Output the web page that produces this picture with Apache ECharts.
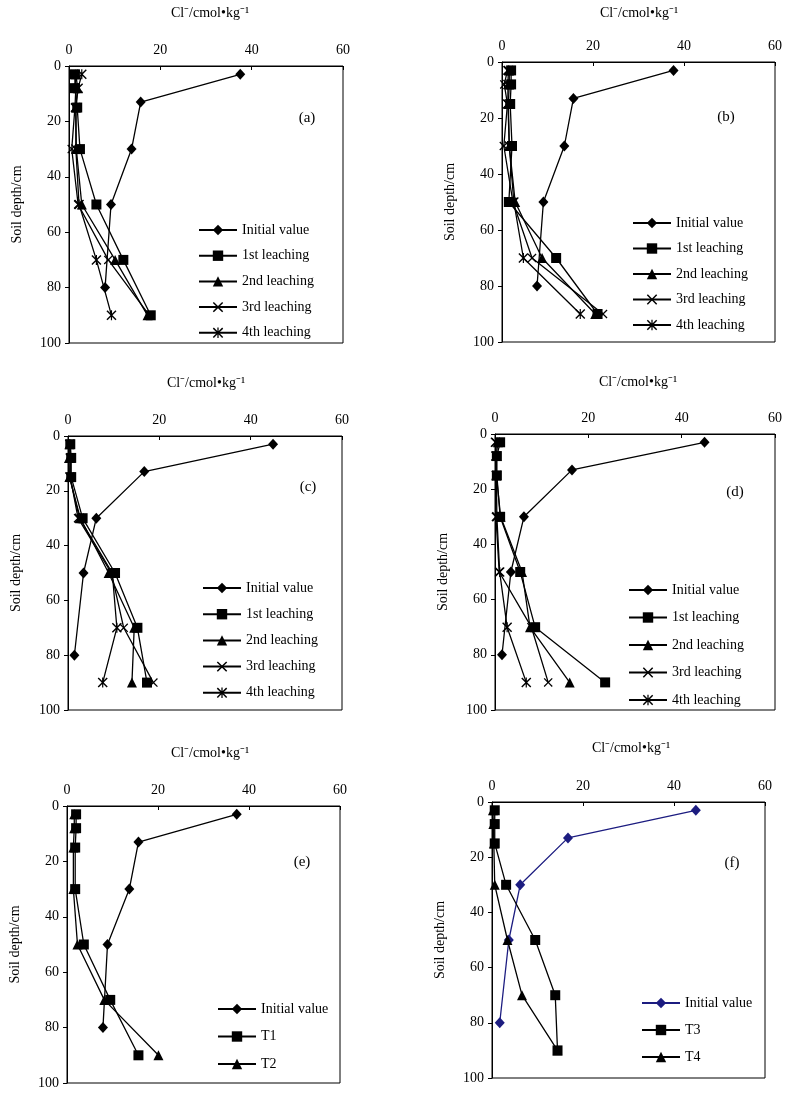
<!DOCTYPE html>
<html><head><meta charset="utf-8">
<script src="https://cdn.jsdelivr.net/npm/echarts@6/dist/echarts.min.js"></script>
<style>html,body{margin:0;padding:0;background:#fff}#c{width:787px;height:1095px}</style>
</head><body><div id="c"></div>
<script>
// ---- data ----
const depthInit = [3, 13, 30, 50, 80];
const depthLeach = [3, 8, 15, 30, 50, 70, 90];
const xTickMax = 60, xTickStep = 20, yTickMax = 100, yTickStep = 20;
const xTitle = 'Cl⁻/cmol•kg⁻¹';
const yTitle = 'Soil depth/cm';
const panelLabels = ['(a)', '(b)', '(c)', '(d)', '(e)', '(f)'];
const leachNames = ['Initial value', '1st leaching', '2nd leaching', '3rd leaching', '4th leaching'];
const eNames = ['Initial value', 'T1', 'T2'];
const fNames = ['Initial value', 'T3', 'T4'];

const initA = [37.5, 15.7, 13.7, 9.2, 7.9];
const a1 = [1.3, 1.3, 1.8, 2.4, 6.0, 11.9, 17.9];
const a2 = [1.5, 1.9, 1.5, 1.6, 2.8, 10.1, 17.2];
const a3 = [1.4, 1.5, 1.3, 0.6, 2.0, 8.6, 17.6];
const a4 = [2.8, 2.0, 1.5, 1.5, 2.2, 6.0, 9.3];

const initB = [37.7, 15.7, 13.7, 9.1, 7.7];
const b1 = [2.0, 2.0, 1.8, 2.2, 1.5, 11.9, 21.0];
const b2 = [1.6, 1.6, 1.4, 1.6, 2.9, 8.8, 20.5];
const b3 = [1.2, 0.5, 1.2, 0.4, 2.4, 6.6, 22.2];
const b4 = [1.4, 1.3, 1.3, 1.6, 2.6, 4.7, 17.2];

const initC = [44.9, 16.7, 6.2, 3.4, 1.4];
const c1 = [0.5, 0.7, 0.7, 3.2, 10.3, 15.2, 17.3];
const c2 = [0.3, 0.2, 0.3, 2.7, 8.9, 14.5, 14.0];
const c3 = [0.4, 0.5, 0.5, 2.2, 9.5, 12.2, 18.7];
const c4 = [0.4, 0.5, 0.4, 2.5, 9.7, 10.7, 7.6];

const initD = [44.9, 16.5, 6.2, 3.4, 1.5];
const d1 = [1.1, 0.4, 0.4, 1.1, 5.4, 8.6, 23.6];
const d2 = [0.6, 0.3, 0.3, 1.2, 5.8, 7.5, 16.0];
const d3 = [0.2, 0.2, 0.2, 0.2, 0.9, 7.8, 11.4];
const d4 = [0.1, 0.2, 0.3, 0.4, 1.0, 2.6, 6.7];

const initE = [37.3, 15.7, 13.7, 8.9, 7.9];
const eT1 = [2.0, 2.0, 1.8, 1.8, 3.7, 9.5, 15.7];
const eT2 = [1.6, 1.6, 1.4, 1.4, 2.3, 8.2, 20.1];

const initF = [44.8, 16.7, 6.2, 3.7, 1.7];
const fT3 = [0.6, 0.6, 0.6, 3.1, 9.5, 13.9, 14.4];
const fT4 = [0.2, 0.3, 0.4, 0.6, 3.4, 6.6, 14.4];

// ---- styling ----
const FONT = '"Liberation Serif","Times New Roman",serif';
const BLACK = '#000';
const NAVY = '#1c1c80';
const SYM_X = 'path://M0,1L1,0L5,4L9,0L10,1L6,5L10,9L9,10L5,6L1,10L0,9L4,5Z';
const SYM_STAR = 'path://M0,1L1,0L5,4L9,0L10,1L6,5L10,9L9,10L5,6L1,10L0,9L4,5ZM4.4,0L5.6,0L5.6,10L4.4,10Z';
const SYMS = [
  {symbol: 'diamond', size: [10, 11]},
  {symbol: 'rect', size: 10},
  {symbol: 'triangle', size: 10},
  {symbol: SYM_X, size: 9},
  {symbol: SYM_STAR, size: 10}
];

const panels = [
  {key: 'a', grid: [69, 66, 274, 277], legend: [198, 222], gap: 11.7, label: [307, 118], title: [210, 13],
   names: leachNames, data: [initA, a1, a2, a3, a4], syms: [0, 1, 2, 3, 4], colors: [BLACK, BLACK, BLACK, BLACK, BLACK]},
  {key: 'b', grid: [502, 62, 273, 280], legend: [632, 215], gap: 11.5, label: [726, 117], title: [639, 13],
   names: leachNames, data: [initB, b1, b2, b3, b4], syms: [0, 1, 2, 3, 4], colors: [BLACK, BLACK, BLACK, BLACK, BLACK]},
  {key: 'c', grid: [68, 436, 274, 274], legend: [202, 580], gap: 12.2, label: [308, 487], title: [206, 383],
   names: leachNames, data: [initC, c1, c2, c3, c4], syms: [0, 1, 2, 3, 4], colors: [BLACK, BLACK, BLACK, BLACK, BLACK]},
  {key: 'd', grid: [495, 434, 280, 276], legend: [628, 582], gap: 13.5, label: [735, 492], title: [638, 382],
   names: leachNames, data: [initD, d1, d2, d3, d4], syms: [0, 1, 2, 3, 4], colors: [BLACK, BLACK, BLACK, BLACK, BLACK]},
  {key: 'e', grid: [67, 806, 273, 277], legend: [217, 1001], gap: 13.5, label: [302, 862], title: [210, 753],
   names: eNames, data: [initE, eT1, eT2], syms: [0, 1, 2], colors: [BLACK, BLACK, BLACK]},
  {key: 'f', grid: [492, 802, 273, 276], legend: [641, 995], gap: 13, label: [732, 863], title: [631, 748],
   names: fNames, data: [initF, fT3, fT4], syms: [0, 1, 2], colors: [NAVY, BLACK, BLACK]}
];

const grids = [], xAxes = [], yAxes = [], series = [], legends = [], graphics = [];
panels.forEach((p, gi) => {
  grids.push({left: p.grid[0], top: p.grid[1], width: p.grid[2], height: p.grid[3],
    show: true, borderColor: BLACK, borderWidth: 1, backgroundColor: 'transparent'});
  xAxes.push({gridIndex: gi, type: 'value', position: 'top', min: 0, max: xTickMax, interval: xTickStep,
    axisLine: {show: true, lineStyle: {color: BLACK, width: 1}},
    axisTick: {show: true, inside: true, length: 4, lineStyle: {color: BLACK}},
    axisLabel: {color: BLACK, fontFamily: FONT, fontSize: 14, margin: 9},
    splitLine: {show: false}});
  yAxes.push({gridIndex: gi, type: 'value', inverse: true, min: 0, max: yTickMax, interval: yTickStep,
    name: yTitle, nameLocation: 'middle', nameGap: 45, nameRotate: 90,
    nameTextStyle: {color: BLACK, fontFamily: FONT, fontSize: 14},
    axisLine: {show: true, lineStyle: {color: BLACK, width: 1}},
    axisTick: {show: true, inside: false, length: 4, lineStyle: {color: BLACK}},
    axisLabel: {color: BLACK, fontFamily: FONT, fontSize: 14, margin: 8},
    splitLine: {show: false}});
  const legendNames = [];
  p.names.forEach((nm, si) => {
    const depths = si === 0 ? depthInit : depthLeach;
    const vals = p.data[si];
    const sym = SYMS[p.syms[si]];
    const sname = nm + '|' + p.key;
    legendNames.push(sname);
    series.push({
      name: sname, type: 'line', xAxisIndex: gi, yAxisIndex: gi,
      data: vals.map((v, i) => [v, depths[i]]),
      symbol: sym.symbol, symbolSize: sym.size, showSymbol: true,
      lineStyle: {color: p.colors[si], width: 1.3},
      itemStyle: {color: p.colors[si], borderWidth: 0},
      emphasis: {disabled: true}, animation: false
    });
  });
  legends.push({
    data: legendNames, orient: 'vertical', left: p.legend[0], top: p.legend[1] + 1,
    padding: 0, itemWidth: 38, itemHeight: 13, itemGap: p.gap, selectedMode: false,
    formatter: n => n.split('|')[0],
    textStyle: {color: BLACK, fontFamily: FONT, fontSize: 14}
  });
  graphics.push({type: 'text', x: p.title[0], y: p.title[1],
    style: {text: xTitle, font: '14px ' + FONT, fill: BLACK, textAlign: 'center', textVerticalAlign: 'middle'}});
  graphics.push({type: 'text', x: p.label[0], y: p.label[1],
    style: {text: panelLabels[gi], font: '15px ' + FONT, fill: BLACK, textAlign: 'center', textVerticalAlign: 'middle'}});
});

const chart = echarts.init(document.getElementById('c'), null, {renderer: 'canvas'});
chart.setOption({
  animation: false,
  backgroundColor: '#fff',
  grid: grids, xAxis: xAxes, yAxis: yAxes, series: series, legend: legends,
  graphic: graphics
});
</script>
</body></html>
